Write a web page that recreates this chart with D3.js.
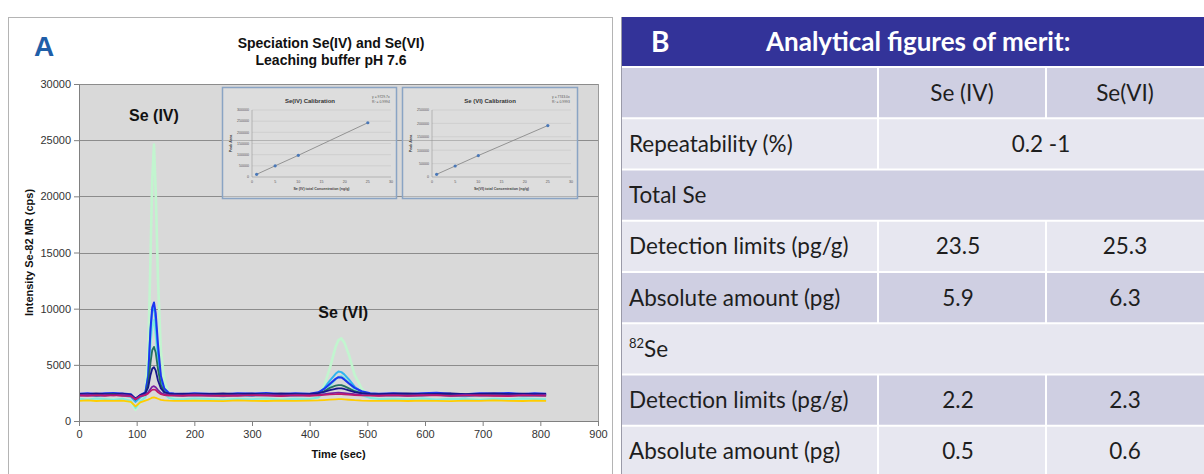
<!DOCTYPE html>
<html>
<head>
<meta charset="utf-8">
<script src="https://cdn.jsdelivr.net/npm/d3@7"></script>
<style>
  body { margin: 0; background: #fff; }
  svg { display: block; }
</style>
</head>
<body>
<svg id="fig" width="1204" height="474"></svg>
<script>
// ---------- chromatogram data (time in s, intensity in cps) ----------
const times = [0,15,30,45,60,75,90,98,106,
  115,120,124,127,130,133,137,142,148,156,165,
  180,200,225,250,275,300,325,350,375,400,
  415,425,435,445,450,455,460,468,478,490,505,520,
  545,570,595,620,645,670,695,720,745,770,790,810];

const traceMint = [1850,1900,1820,1880,1930,1860,1700,1000,1650,
  2300,5800,14500,21500,24600,20500,12500,6200,3600,2300,1950,
  1880,1820,1900,1850,1920,1870,1830,1900,1860,1910,
  2300,3100,4700,6600,7200,7350,7000,5900,4100,2900,2150,1900,
  1850,1920,1880,1830,1900,1870,1930,1860,1900,1880,1920,1870];
const traceAqua = [1980,1920,2010,1950,1900,1990,1800,1150,1750,
  2100,3000,6800,8400,9000,7600,5200,3300,2400,2050,1960,
  1930,2000,1950,1900,1980,1940,2010,1920,1970,1950,
  2100,2500,3100,3700,3950,4000,3850,3400,2800,2300,2050,1960,
  1990,1940,2000,1920,1980,1950,1900,1990,1940,2010,1960,1930];
const traceCyan = [2250,2300,2220,2280,2330,2260,2150,1700,2100,
  2400,4200,8000,9800,10200,8900,6000,3700,2700,2350,2280,
  2240,2300,2260,2210,2290,2250,2320,2230,2270,2300,
  2450,2900,3600,4200,4400,4350,4150,3700,3050,2600,2350,2260,
  2300,2240,2280,2330,2250,2210,2290,2270,2310,2240,2280,2250];
const traceBlue = [2430,2480,2400,2460,2500,2440,2380,1950,2300,
  2550,4000,8200,10100,10550,9600,6800,4000,2900,2500,2450,
  2410,2470,2430,2390,2480,2440,2500,2410,2460,2420,
  2550,2850,3300,3750,3900,3880,3700,3350,2950,2650,2480,2430,
  2460,2400,2480,2520,2430,2390,2470,2440,2500,2410,2460,2430];
const traceTeal = [2360,2400,2330,2380,2420,2350,2300,1900,2250,
  2450,3300,5200,6300,6600,6100,4600,3200,2600,2400,2360,
  2330,2390,2350,2310,2400,2360,2420,2340,2380,2350,
  2450,2650,2950,3150,3200,3200,3100,2900,2650,2480,2380,2350,
  2380,2330,2400,2360,2320,2390,2350,2410,2340,2370,2330,2360];
const traceNavy = [2420,2380,2450,2400,2360,2430,2350,2000,2300,
  2480,3000,4100,4650,4800,4500,3600,2900,2550,2430,2400,
  2440,2380,2420,2460,2390,2430,2370,2450,2400,2420,
  2480,2600,2750,2870,2900,2900,2850,2720,2580,2470,2420,2400,
  2430,2460,2390,2420,2450,2380,2410,2460,2400,2430,2380,2420];
const tracePurple = [2310,2350,2280,2330,2290,2340,2260,1950,2220,
  2350,2550,2850,3050,3100,3000,2750,2500,2380,2320,2300,
  2280,2340,2300,2260,2330,2290,2350,2270,2320,2300,
  2340,2400,2460,2500,2520,2510,2480,2440,2380,2330,2300,2290,
  2320,2270,2330,2300,2260,2340,2290,2310,2270,2330,2300,2320];
const traceMagenta = [2260,2230,2280,2240,2290,2220,2200,1900,2180,
  2290,2450,2650,2780,2800,2750,2550,2380,2300,2260,2250,
  2240,2280,2220,2260,2230,2290,2250,2210,2270,2240,
  2280,2320,2360,2380,2400,2390,2370,2340,2300,2270,2250,2240,
  2270,2230,2260,2290,2220,2250,2280,2240,2210,2270,2250,2230];
const traceYellow = [1800,1830,1780,1820,1790,1810,1700,1300,1650,
  1820,1900,2000,2080,2100,2060,1980,1880,1830,1810,1800,
  1790,1820,1800,1770,1830,1800,1780,1810,1790,1820,
  1830,1860,1900,1930,1950,1950,1930,1890,1850,1820,1800,1790,
  1810,1780,1820,1800,1770,1810,1790,1830,1800,1780,1810,1790];

const xTicks = [0,100,200,300,400,500,600,700,800,900];
const yTicks = [0,5000,10000,15000,20000,25000,30000];

// ---------- calibration data ----------
const calibConc = [1, 5, 10, 25];
const calibAreaSe4 = [12000, 50000, 97000, 243000];
const calibAreaSe6 = [10000, 41000, 80000, 192000];
const calibXTicks = [0,5,10,15,20,25,30];

// ---------- table data ----------
const rowLabels = ['', 'Repeatability (%)', 'Total Se', 'Detection limits (pg/g)',
  'Absolute amount (pg)', '82Se', 'Detection limits (pg/g)', 'Absolute amount (pg)'];
const columnHeads = ['Se (IV)', 'Se(VI)'];
const valuesSe4 = [null, null, null, 23.5, 5.9, null, 2.2, 0.5];
const valuesSe6 = [null, null, null, 25.3, 6.3, null, 2.3, 0.6];
const repeatability = '0.2 -1';

// ======================================================================
const svg = d3.select('#fig');
svg.append('rect').attr('width', 1204).attr('height', 474).attr('fill', '#fff');

const ARIAL = '"Liberation Sans", Arial, sans-serif';

// panel A frame
svg.append('rect').attr('x', 8.5).attr('y', 17.5).attr('width', 604).attr('height', 470)
  .attr('fill', 'none').attr('stroke', '#b4b4b4');

svg.append('text').attr('x', 34).attr('y', 56).text('A')
  .attr('font-family', ARIAL).attr('font-weight', 'bold').attr('font-size', 28).attr('fill', '#1f5ea8');

svg.append('text').attr('x', 331).attr('y', 48).attr('text-anchor', 'middle')
  .attr('font-family', ARIAL).attr('font-weight', 'bold').attr('font-size', 14).attr('fill', '#111')
  .text('Speciation Se(IV) and Se(VI)');
svg.append('text').attr('x', 331).attr('y', 65).attr('text-anchor', 'middle')
  .attr('font-family', ARIAL).attr('font-weight', 'bold').attr('font-size', 14).attr('fill', '#111')
  .text('Leaching buffer pH 7.6');

const plot = { left: 79, right: 598, top: 84, bottom: 421 };
const x = d3.scaleLinear().domain([0, 900]).range([plot.left, plot.right]);
const y = d3.scaleLinear().domain([0, 30000]).range([plot.bottom, plot.top]);

svg.append('rect').attr('x', plot.left).attr('y', plot.top)
  .attr('width', plot.right - plot.left).attr('height', plot.bottom - plot.top)
  .attr('fill', '#d9d9d9');

svg.append('g').selectAll('line').data(yTicks.filter(d => d > 0)).join('line')
  .attr('x1', plot.left).attr('x2', plot.right)
  .attr('y1', d => Math.round(y(d)) + 0.5).attr('y2', d => Math.round(y(d)) + 0.5)
  .attr('stroke', '#8c8c8c').attr('stroke-width', 1);

// right border of the plot area
svg.append('line').attr('x1', plot.right + 0.5).attr('x2', plot.right + 0.5)
  .attr('y1', plot.top).attr('y2', plot.bottom).attr('stroke', '#9a9a9a');

// ---------- calibration insets ----------
function drawInset(box, title, xTitle, areas, yMax, r2) {
  const g = svg.append('g');
  g.append('rect').attr('x', box.x + 0.5).attr('y', box.y + 0.5).attr('width', box.w).attr('height', box.h)
    .attr('fill', 'rgba(226,226,226,0.45)').attr('stroke', '#8aa4c4').attr('stroke-width', 1.5);
  const ix = d3.scaleLinear().domain([0, 30]).range([box.x + 30, box.x + 169]);
  const iy = d3.scaleLinear().domain([0, yMax]).range([box.y + 90, box.y + 23]);
  const yt = d3.range(0, yMax + 1, 50000);
  g.selectAll('line.ig').data(yt.filter(d => d > 0)).join('line')
    .attr('x1', ix(0)).attr('x2', ix(30)).attr('y1', d => iy(d)).attr('y2', d => iy(d))
    .attr('stroke', '#c6c6c6').attr('stroke-width', 0.6);
  g.append('line').attr('x1', ix(0)).attr('x2', ix(0)).attr('y1', iy(yMax)).attr('y2', iy(0))
    .attr('stroke', '#999').attr('stroke-width', 0.6);
  g.append('line').attr('x1', ix(0)).attr('x2', ix(30)).attr('y1', iy(0)).attr('y2', iy(0))
    .attr('stroke', '#999').attr('stroke-width', 0.6);
  g.selectAll('text.iyt').data(yt).join('text')
    .attr('x', ix(0) - 3).attr('y', d => iy(d) + 1.3).attr('text-anchor', 'end')
    .attr('font-family', ARIAL).attr('font-size', 3.6).attr('fill', '#555').text(d => d);
  g.selectAll('text.ixt').data(calibXTicks).join('text')
    .attr('x', d => ix(d)).attr('y', iy(0) + 6).attr('text-anchor', 'middle')
    .attr('font-family', ARIAL).attr('font-size', 3.6).attr('fill', '#555').text(d => d);
  g.append('text').attr('x', box.x + 88).attr('y', box.y + 16).attr('text-anchor', 'middle')
    .attr('font-family', ARIAL).attr('font-weight', 'bold').attr('font-size', 6).attr('fill', '#333').text(title);
  g.append('text').attr('x', (ix(0) + ix(30)) / 2).attr('y', iy(0) + 12.5).attr('text-anchor', 'middle')
    .attr('font-family', ARIAL).attr('font-weight', 'bold').attr('font-size', 3.6).attr('fill', '#444').text(xTitle);
  g.append('text').attr('transform', `translate(${box.x + 10},${(iy(0) + iy(yMax)) / 2}) rotate(-90)`)
    .attr('text-anchor', 'middle').attr('font-family', ARIAL).attr('font-weight', 'bold')
    .attr('font-size', 3.6).attr('fill', '#444').text('Peak Area');
  // least-squares slope through the origin
  const slope = d3.sum(calibConc, (c, i) => c * areas[i]) / d3.sum(calibConc, c => c * c);
  g.append('text').attr('x', box.x + 150).attr('y', box.y + 11).attr('font-family', ARIAL)
    .attr('font-size', 3.4).attr('fill', '#555').text('y = ' + slope.toFixed(1) + 'x');
  g.append('text').attr('x', box.x + 150).attr('y', box.y + 16).attr('font-family', ARIAL)
    .attr('font-size', 3.4).attr('fill', '#555').text('R² = ' + r2);
  const pts = calibConc.map((c, i) => [c, areas[i]]);
  g.append('path').datum(pts)
    .attr('d', d3.line().x(d => ix(d[0])).y(d => iy(d[1])))
    .attr('fill', 'none').attr('stroke', '#8a8a8a').attr('stroke-width', 0.9);
  g.selectAll('circle').data(pts).join('circle')
    .attr('cx', d => ix(d[0])).attr('cy', d => iy(d[1])).attr('r', 1.6).attr('fill', '#4a78b8');
}
drawInset({ x: 222, y: 87, w: 174, h: 111 }, 'Se(IV) Calibration', 'Se (IV) total Concentration (ng/g)',
  calibAreaSe4, 300000, '0.9994');
drawInset({ x: 402, y: 87, w: 175, h: 111 }, 'Se (VI) Calibration', 'Se(VI) total Concentration (ng/g)',
  calibAreaSe6, 250000, '0.9993');

// ---------- chromatogram traces ----------
const traces = [
  { v: traceMint, c: '#c2f5cf', w: 2.6 },
  { v: traceAqua, c: '#7fe9e0', w: 2.0 },
  { v: traceCyan, c: '#2fb4f0', w: 2.0 },
  { v: traceBlue, c: '#1c35f0', w: 2.0 },
  { v: traceTeal, c: '#23705f', w: 1.8 },
  { v: traceNavy, c: '#16168a', w: 1.8 },
  { v: tracePurple, c: '#7a1fa0', w: 1.8 },
  { v: traceMagenta, c: '#c0176a', w: 1.6 },
  { v: traceYellow, c: '#ffcc00', w: 1.8 }
];
const line = d3.line().x((d, i) => x(times[i])).y(d => y(d));
svg.append('g').selectAll('path').data(traces).join('path')
  .attr('d', d => line(d.v))
  .attr('fill', 'none').attr('stroke', d => d.c).attr('stroke-width', d => d.w)
  .attr('stroke-linejoin', 'round');

// ---------- axes ----------
const yAxis = svg.append('g').attr('transform', `translate(${plot.left},0)`)
  .call(d3.axisLeft(y).tickValues(yTicks).tickFormat(d3.format('d'))
    .tickSize(5).tickPadding(3).tickSizeOuter(0));
const xAxis = svg.append('g').attr('transform', `translate(0,${plot.bottom})`)
  .call(d3.axisBottom(x).tickValues(xTicks).tickFormat(d3.format('d'))
    .tickSize(5).tickPadding(4).tickSizeOuter(0));
[yAxis, xAxis].forEach(a => {
  a.selectAll('path,line').attr('stroke', '#808080');
  a.selectAll('text').attr('font-family', ARIAL).attr('font-size', 11).attr('fill', '#333');
});

svg.append('text').attr('transform', `translate(33,${(plot.top + plot.bottom) / 2}) rotate(-90)`)
  .attr('text-anchor', 'middle').attr('font-family', ARIAL).attr('font-weight', 'bold')
  .attr('font-size', 11).attr('fill', '#111').text('Intensity Se-82 MR (cps)');
svg.append('text').attr('x', x(450)).attr('y', 458).attr('text-anchor', 'middle')
  .attr('font-family', ARIAL).attr('font-weight', 'bold').attr('font-size', 11).attr('fill', '#111')
  .text('Time (sec)');

svg.append('text').attr('x', x(130)).attr('y', 121).attr('text-anchor', 'middle')
  .attr('font-family', ARIAL).attr('font-weight', 'bold').attr('font-size', 16).attr('fill', '#111')
  .text('Se (IV)');
svg.append('text').attr('x', x(458)).attr('y', 318).attr('text-anchor', 'middle')
  .attr('font-family', ARIAL).attr('font-weight', 'bold').attr('font-size', 16).attr('fill', '#111')
  .text('Se (VI)');

// ======================================================================
// panel B : figures of merit table
const LATO = 'Lato, "Open Sans", sans-serif';
const colX = [621, 878, 1046, 1204];
const rowBand = d3.scaleBand().domain(d3.range(rowLabels.length)).range([67, 477]).paddingInner(0);

svg.append('rect').attr('x', colX[0]).attr('y', 17).attr('width', colX[3] - colX[0]).attr('height', 49)
  .attr('fill', '#333399');
svg.append('text').attr('x', 651).attr('y', 52).attr('font-family', LATO).attr('font-weight', 'bold')
  .attr('font-size', 28).attr('fill', '#fff').text('B');
svg.append('text').attr('x', 766).attr('y', 51).attr('font-family', LATO).attr('font-weight', 'bold')
  .attr('font-size', 26).attr('fill', '#fff').text('Analytical figures of merit:');

// cell spans per row: [first column, last column]
function spans(i) {
  if (rowLabels[i] === 'Total Se' || rowLabels[i] === '82Se') return [[0, 2]];
  if (rowLabels[i].startsWith('Repeatability')) return [[0, 0], [1, 2]];
  return [[0, 0], [1, 1], [2, 2]];
}
const cells = [];
rowLabels.forEach((lab, i) => spans(i).forEach(s => cells.push({ row: i, a: s[0], b: s[1] })));
svg.append('g').selectAll('rect').data(cells).join('rect')
  .attr('x', d => colX[d.a] + (d.a > 0 ? 1 : 0))
  .attr('y', d => rowBand(d.row) + 1)
  .attr('width', d => colX[d.b + 1] - colX[d.a] - (d.a > 0 ? 1 : 0) - (d.b < 2 ? 1 : 0))
  .attr('height', rowBand.bandwidth() - 2)
  .attr('fill', d => d.row % 2 === 0 ? '#cfcfe2' : '#e7e7f0');

svg.append('line').attr('x1', colX[0] + 0.5).attr('x2', colX[0] + 0.5).attr('y1', 17).attr('y2', 474)
  .attr('stroke', '#9a9aa8').attr('stroke-width', 1);

const textY = i => rowBand(i) + rowBand.bandwidth() / 2 + 8;
const tGroup = svg.append('g').attr('font-family', LATO).attr('font-size', 22.5).attr('fill', '#1e1e1e');
rowLabels.forEach((lab, i) => {
  if (lab === '82Se') {
    const t = tGroup.append('text').attr('x', 629).attr('y', textY(i));
    t.append('tspan').attr('font-size', 13).attr('dy', -9).text('82');
    t.append('tspan').attr('dy', 9).text('Se');
  } else if (lab) {
    tGroup.append('text').attr('x', 629).attr('y', textY(i)).text(lab);
  }
});
columnHeads.forEach((h, j) => {
  tGroup.append('text').attr('x', (colX[j + 1] + colX[j + 2]) / 2).attr('y', textY(0))
    .attr('text-anchor', 'middle').text(h);
});
const repRow = rowLabels.findIndex(l => l.startsWith('Repeatability'));
tGroup.append('text').attr('x', (colX[1] + colX[3]) / 2).attr('y', textY(repRow))
  .attr('text-anchor', 'middle').text(repeatability);
valuesSe4.forEach((v, i) => {
  if (v !== null) tGroup.append('text').attr('x', (colX[1] + colX[2]) / 2 - 4).attr('y', textY(i))
    .attr('text-anchor', 'middle').text(v.toFixed(1));
});
valuesSe6.forEach((v, i) => {
  if (v !== null) tGroup.append('text').attr('x', (colX[2] + colX[3]) / 2).attr('y', textY(i))
    .attr('text-anchor', 'middle').text(v.toFixed(1));
});
</script>
</body>
</html>
